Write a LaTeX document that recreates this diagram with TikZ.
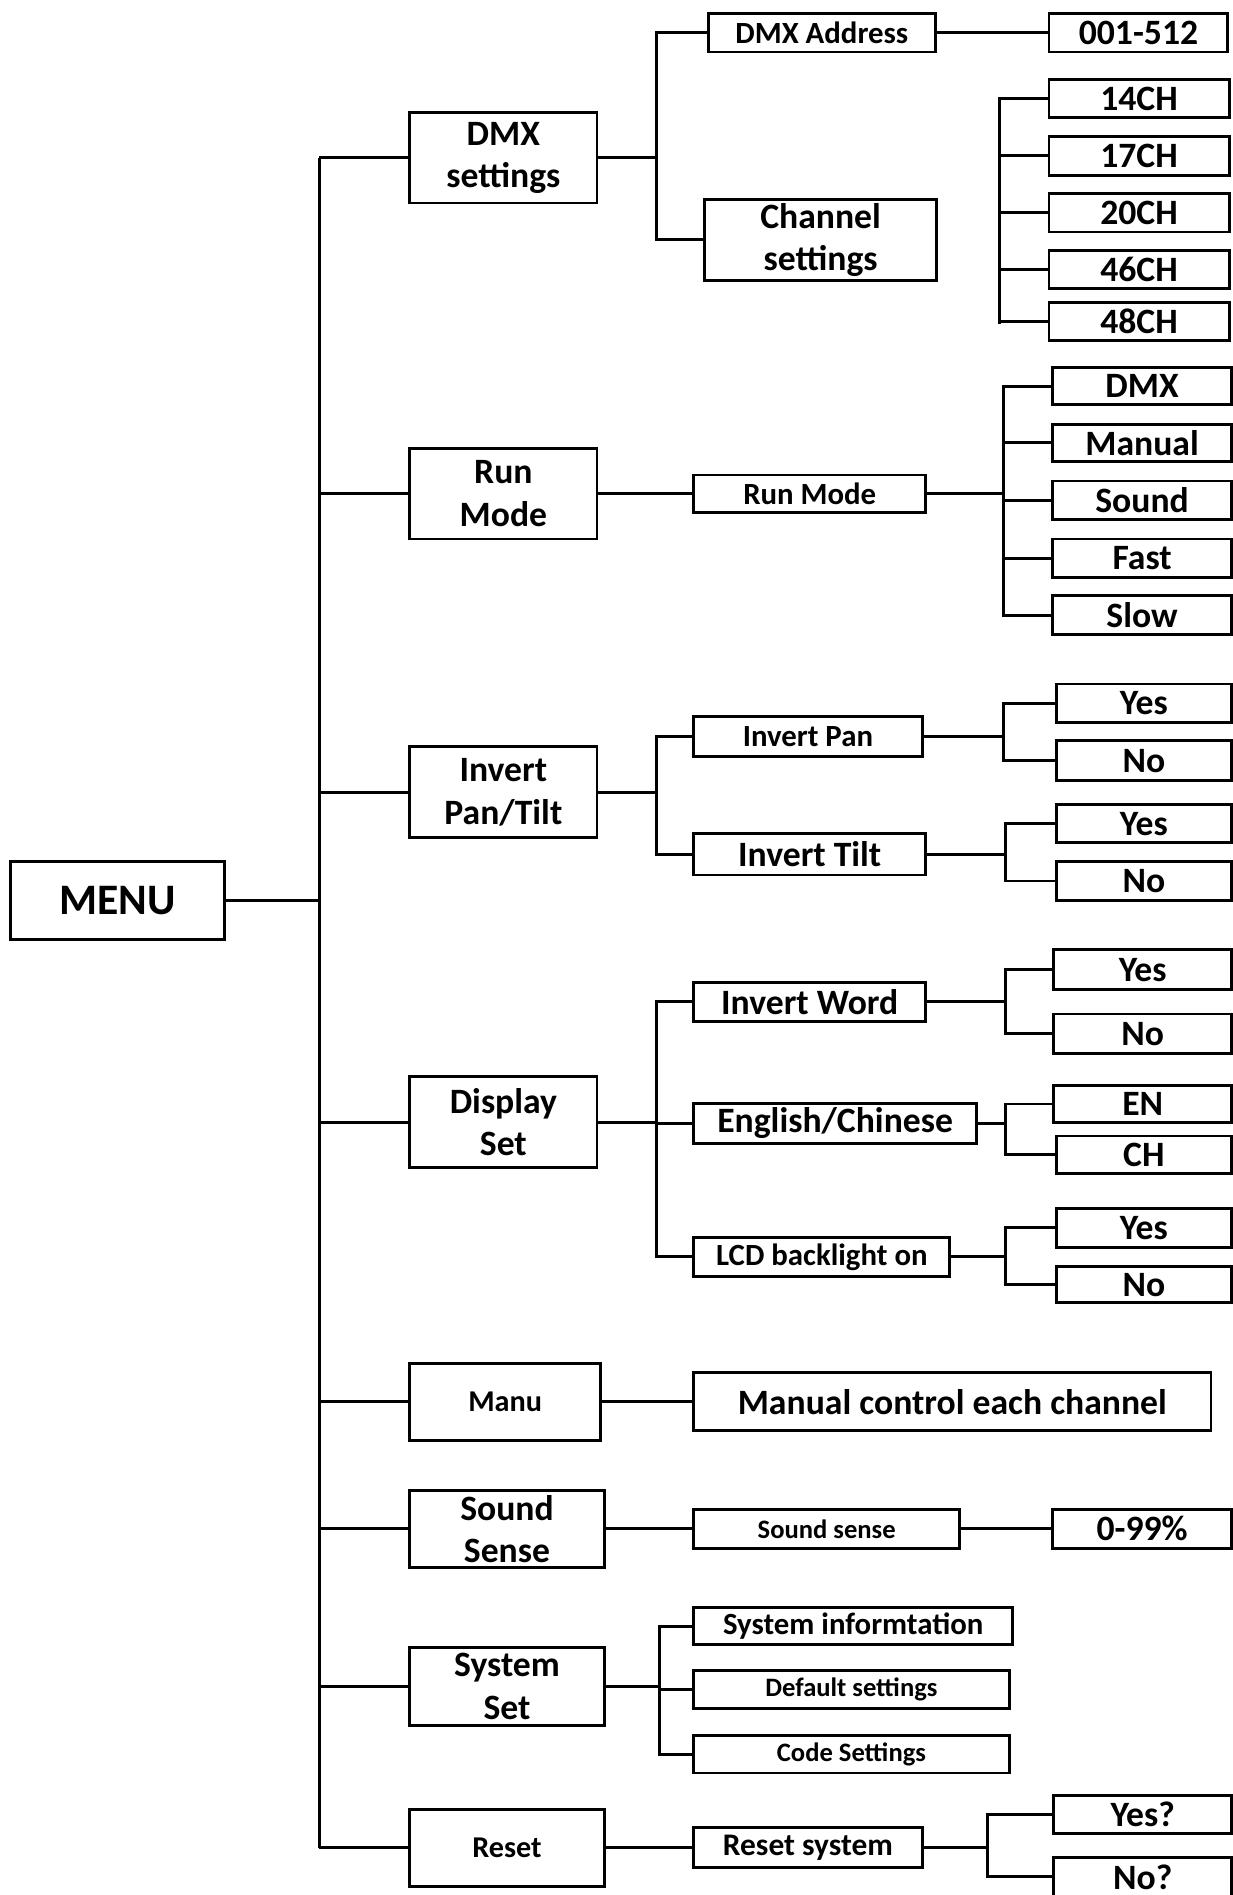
\documentclass[tikz,border=0pt]{standalone}
\usepackage{fontspec}
\setmainfont{Carlito}
\tikzset{
  box/.style={draw=black,line width=2.4pt,inner sep=0pt,align=center},
  ln/.style={draw=black,line width=2.4pt}
}
\newcommand\bx[7]{\node[box,minimum width={#4-#2},minimum height={#5-#3},font=\fontsize{#6}{35}\selectfont\bfseries] (#1) at ({(#2+#4)/2},{(#3+#5)/2}) {#7};}
\begin{document}
\begin{tikzpicture}[x=1pt,y=-1pt]
\fill[white] (0,0) rectangle (1020,1568);
\useasboundingbox (0,0) rectangle (1020,1568);
% root
\bx{menu}{9}{713}{186}{777}{36}{MENU}
% level 1
\bx{dmxs}{339}{93}{494}{168}{29.5}{DMX\\settings}
\bx{runm}{339}{371}{494}{446}{29.5}{Run\\Mode}
\bx{inv}{339}{618}{494}{693}{29.5}{Invert\\Pan/Tilt}
\bx{disp}{339}{891}{494}{966}{29.5}{Display\\Set}
\bx{manu}{339}{1128}{497}{1192}{25}{Manu}
\bx{sound}{339}{1233}{500}{1297}{29.5}{Sound\\Sense}
\bx{sys}{339}{1363}{500}{1428}{29.5}{System\\Set}
\bx{reset}{339}{1497}{500}{1561}{25}{Reset}
% DMX settings branch
\bx{dmxaddr}{586}{11}{774}{43}{25.5}{DMX Address}
\bx{addr}{868}{11}{1016}{43}{29.5}{001-512}
\bx{chs}{583}{165}{775}{232}{29.5}{Channel\\settings}
\bx{chA}{868}{66}{1017}{97}{29.5}{14CH}
\bx{chB}{868}{113}{1017}{145}{29.5}{17CH}
\bx{chC}{868}{160}{1017}{192}{29.5}{20CH}
\bx{chD}{868}{207}{1017}{239}{29.5}{46CH}
\bx{chE}{868}{250}{1017}{282}{29.5}{48CH}
% Run mode branch
\bx{runm2}{574}{393}{766}{424}{25.5}{Run Mode}
\bx{mA}{871}{304}{1019}{335}{29.5}{DMX}
\bx{mB}{871}{351}{1019}{382}{29.5}{Manual}
\bx{mC}{871}{398}{1019}{430}{29.5}{Sound}
\bx{mD}{871}{446}{1019}{478}{29.5}{Fast}
\bx{mE}{871}{493}{1019}{525}{29.5}{Slow}
% Invert branch
\bx{ipan}{574}{593}{763}{626}{25.5}{Invert Pan}
\bx{ipy}{874}{566}{1019}{598}{29.5}{Yes}
\bx{ipn}{874}{613}{1019}{646}{29.5}{No}
\bx{itilt}{574}{690}{766}{724}{29.5}{Invert Tilt}
\bx{ity}{874}{666}{1019}{697}{29.5}{Yes}
\bx{itn}{874}{713}{1019}{745}{29.5}{No}
% Display branch
\bx{iword}{574}{813}{766}{845}{29.5}{Invert Word}
\bx{iwy}{872}{786}{1019}{819}{29.5}{Yes}
\bx{iwn}{872}{839}{1019}{872}{29.5}{No}
\bx{engch}{574}{913}{808}{946}{29.5}{English/Chinese}
\bx{en}{872}{898}{1019}{929}{29.5}{EN}
\bx{cn}{874}{940}{1019}{971}{29.5}{CH}
\bx{lcd}{574}{1024}{786}{1056}{25.5}{LCD backlight on}
\bx{lcy}{874}{1000}{1019}{1032}{29.5}{Yes}
\bx{lcn}{874}{1048}{1019}{1078}{29.5}{No}
% Manu
\bx{manual}{574}{1136}{1002}{1184}{29.5}{Manual control each channel}
% Sound sense
\bx{ssense}{574}{1249}{794}{1281}{22}{Sound sense}
\bx{pct}{871}{1249}{1019}{1281}{29.5}{0-99\%}
% System set
\bx{sysinfo}{574}{1330}{838}{1361}{25.5}{System informtation}
\bx{defs}{574}{1382}{835}{1414}{22}{Default settings}
\bx{codes}{574}{1436}{835}{1467}{22}{Code Settings}
% Reset
\bx{rsys}{574}{1512}{763}{1545}{26}{Reset system}
\bx{ryes}{872}{1486}{1019}{1517}{29.5}{Yes?}
\bx{rno}{872}{1537}{1019}{1569}{29.5}{No?}
% bus coordinates
\coordinate (tr) at (264,0);
\coordinate (bA) at (543,0);
\coordinate (bC) at (827,0);
\coordinate (bR) at (830,0);
\coordinate (bP) at (830,0);
\coordinate (bT) at (832,0);
\coordinate (bW) at (832,0);
\coordinate (bS) at (546,0);
\coordinate (bX) at (817,0);
% trunk
\draw[ln] (menu.east) -- (menu.east -| tr);
\draw[ln] (dmxs.west -| tr) -- (reset.west -| tr);
\foreach \n in {dmxs,runm,inv,disp,manu,sound,sys,reset}
  \draw[ln] (\n.west) -- (\n.west -| tr);
% DMX settings
\draw[ln] (dmxs.east) -- (dmxs.east -| bA);
\draw[ln] (dmxaddr.west) -- (dmxaddr.west -| bA) -- (chs.west -| bA) -- (chs.west);
\draw[ln] (dmxaddr.east) -- (addr.west);
\draw[ln] (chA.west) -- (chA.west -| bC) -- ([yshift=-2pt]chE.west -| bC);
\foreach \n in {chB,chC,chD,chE}
  \draw[ln] (\n.west) -- (\n.west -| bC);
% Run mode
\draw[ln] (runm.east) -- (runm2.west);
\draw[ln] (runm2.east) -- (runm2.east -| bR);
\draw[ln] (mA.west) -- (mA.west -| bR) -- (mE.west -| bR) -- (mE.west);
\foreach \n in {mB,mC,mD}
  \draw[ln] (\n.west) -- (\n.west -| bR);
% Invert
\draw[ln] (inv.east) -- (inv.east -| bA);
\draw[ln] (ipan.west) -- (ipan.west -| bA) -- (itilt.west -| bA) -- (itilt.west);
\draw[ln] (ipan.east) -- (ipan.east -| bP);
\draw[ln] (ipy.west) -- (ipy.west -| bP) -- (ipn.west -| bP) -- (ipn.west);
\draw[ln] (itilt.east) -- (itilt.east -| bT);
\draw[ln] (ity.west) -- (ity.west -| bT) -- (itn.west -| bT) -- (itn.west);
% Display
\draw[ln] (disp.east) -- (disp.east -| bA);
\draw[ln] (iword.west) -- (iword.west -| bA) -- (lcd.west -| bA) -- (lcd.west);
\draw[ln] (engch.west) -- (engch.west -| bA);
\draw[ln] (iword.east) -- (iword.east -| bW);
\draw[ln] (iwy.west) -- (iwy.west -| bW) -- (iwn.west -| bW) -- (iwn.west);
\draw[ln] (engch.east) -- (engch.east -| bW);
\draw[ln] (en.west) -- (en.west -| bW) -- (cn.west -| bW) -- (cn.west);
\draw[ln] (lcd.east) -- (lcd.east -| bW);
\draw[ln] (lcy.west) -- (lcy.west -| bW) -- (lcn.west -| bW) -- (lcn.west);
% Manu
\draw[ln] (manu.east) -- (manu.east -| manual.west);
% Sound
\draw[ln] (sound.east) -- (sound.east -| ssense.west);
\draw[ln] (ssense.east) -- (pct.west);
% System
\draw[ln] (sys.east) -- (sys.east -| bS);
\draw[ln] (sysinfo.west) -- (sysinfo.west -| bS) -- (codes.west -| bS) -- (codes.west);
\draw[ln] (defs.west) -- (defs.west -| bS);
% Reset
\draw[ln] (reset.east) -- (reset.east -| rsys.west);
\draw[ln] (rsys.east) -- (rsys.east -| bX);
\draw[ln] (ryes.west) -- (ryes.west -| bX) -- (rno.west -| bX) -- (rno.west);
\end{tikzpicture}
\end{document}
